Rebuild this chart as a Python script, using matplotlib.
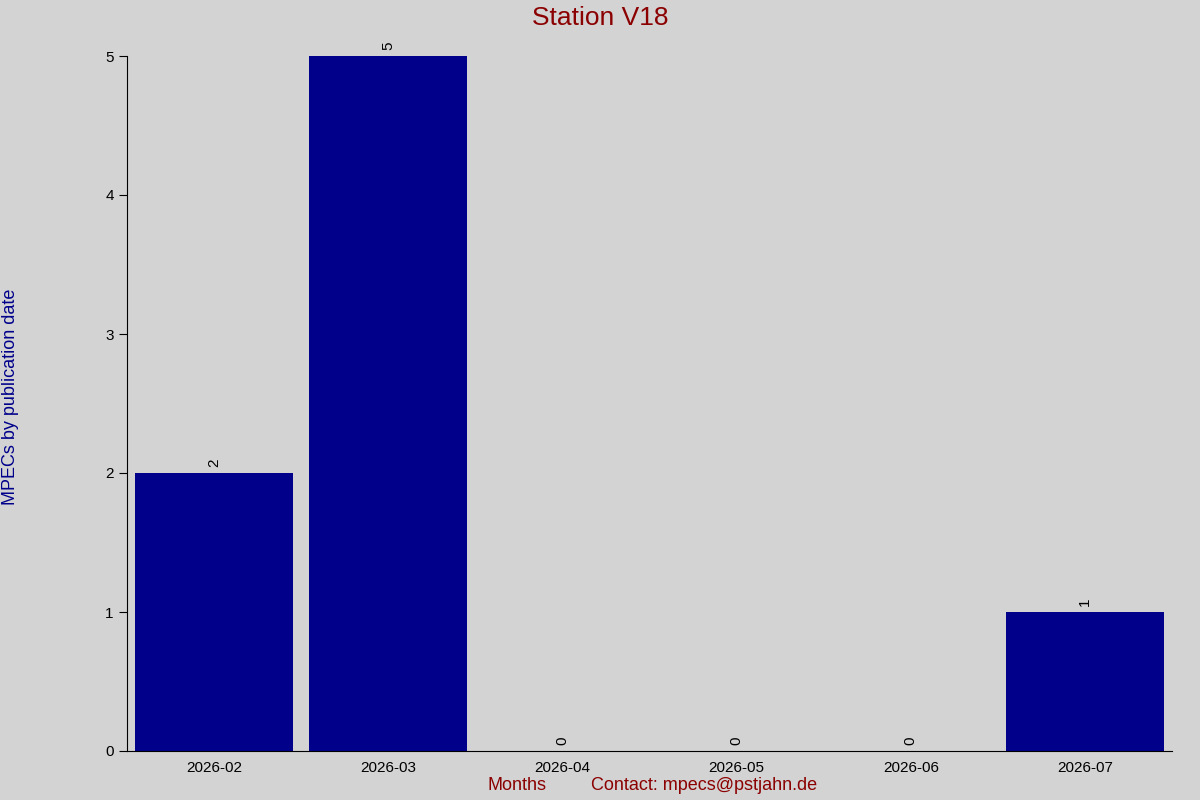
import matplotlib
matplotlib.use("Agg")
import matplotlib.pyplot as plt

months = ["2026-02", "2026-03", "2026-04", "2026-05", "2026-06", "2026-07"]
counts = [2, 5, 0, 0, 0, 1]

plt.rcParams["font.family"] = ["Liberation Sans", "DejaVu Sans"]
bg = "#d3d3d3"
fig = plt.figure(figsize=(12, 8), dpi=100, facecolor=bg)
ax = fig.add_axes([127/1200, 49/800, 1045/1200, 695/800], facecolor=bg)

x = range(len(months))
ax.bar(x, counts, width=0.91, color="#00008b")
for i, v in zip(x, counts):
    ax.text(i, v + 0.04, str(v), rotation=90, ha="center", va="bottom", fontsize=11)

ax.set_xlim(-0.5, len(months) - 0.5)
ax.set_ylim(0, 5)
ax.set_xticks(list(x))
ax.set_xticklabels(months, fontsize=11)
ax.set_yticks(range(6))
ax.tick_params(axis="y", labelsize=11, direction="out", length=6)
ax.tick_params(axis="x", length=0, top=True, pad=7)
for s in ("top", "right"):
    ax.spines[s].set_visible(False)

fig.text(0.5, 782/800, "Station V18", color="#8b0000", fontsize=19, ha="center", va="center")
fig.text(11/1200, 403/800, "MPECs by publication date", color="#00008b", fontsize=13,
         rotation=90, ha="center", va="center")
fig.text(517/1200, 14/800, "Months", color="#8b0000", fontsize=13, ha="center", va="center")
fig.text(704/1200, 14/800, "Contact: mpecs@pstjahn.de", color="#8b0000", fontsize=13, ha="center", va="center")
fig.savefig("out.png", dpi=100, facecolor=bg)
